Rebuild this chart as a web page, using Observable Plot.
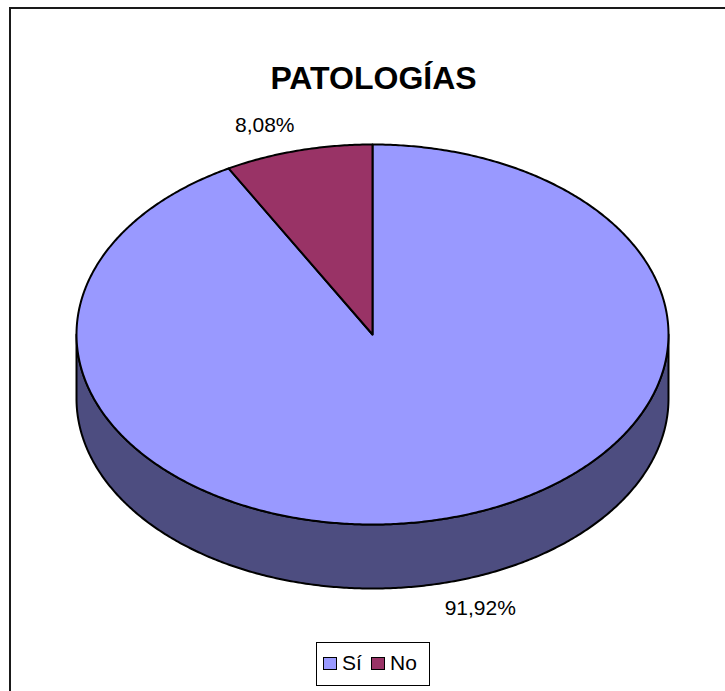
<!DOCTYPE html>
<html>
<head>
<meta charset="utf-8">
<script src="https://cdn.jsdelivr.net/npm/d3@7"></script>
<script src="https://cdn.jsdelivr.net/npm/@observablehq/plot@0.6"></script>
<style>
  html, body { margin: 0; padding: 0; background: #fff; }
  body { width: 725px; height: 691px; overflow: hidden; position: relative; font-family: "Liberation Sans", Arial, sans-serif; }
  #frame { position: absolute; left: 9px; top: 7px; width: 900px; height: 900px; border-top: 2px solid #1a1a1a; border-left: 2px solid #1a1a1a; box-sizing: border-box; }
  #chart { position: absolute; left: 0; top: 0; }
  #title { position: absolute; left: 0; width: 747px; top: 60px; text-align: center; font-weight: bold; font-size: 32px; color: #000; }
  #legend { position: absolute; left: 316px; top: 642px; width: 114px; height: 44px; border: 1px solid #000; box-sizing: border-box; background: #fff; }
  .sw { position: absolute; width: 14px; height: 13px; border: 1px solid #000; box-sizing: border-box; top: 14px; }
  .lb { position: absolute; top: 8px; font-size: 21px; line-height: 24px; color: #000; }
</style>
</head>
<body>
<div id="frame"></div>
<div id="chart"></div>
<div id="title"></div>
<div id="legend"></div>
<script>
// ---- data ----
const titleText = "PATOLOGÍAS";
const categories = ["Sí", "No"];
const values = [91.92, 8.08];
const labels = ["91,92%", "8,08%"];
const topColors = ["#9999ff", "#993366"];
const sideColors = ["#4d4d80", "#4d1a33"];

// ---- geometry (unit ellipse, y up) ----
const depth = 0.337;
const step = Math.PI / 360;
const arcs = d3.pie().sort(null).startAngle(0).endAngle(2 * Math.PI)(values);

function arcPoints(a0, a1, dy) {
  const pts = [];
  const n = Math.max(2, Math.ceil((a1 - a0) / step));
  for (let i = 0; i <= n; i++) {
    const a = a0 + (a1 - a0) * i / n;
    pts.push([Math.sin(a), Math.cos(a) + dy]);
  }
  return pts;
}

const sidePts = [];
const topPts = [];
const labelRows = [];
arcs.forEach((arc, i) => {
  const cat = categories[i];
  // front wall (visible between 90° and 270° clockwise from top)
  const s0 = Math.max(arc.startAngle, Math.PI / 2);
  const s1 = Math.min(arc.endAngle, 3 * Math.PI / 2);
  if (s1 > s0) {
    const upper = arcPoints(s0, s1, 0);
    const lower = arcPoints(s0, s1, -depth).reverse();
    const poly = upper.concat(lower);
    poly.push(poly[0]);
    poly.forEach(([x, y]) => sidePts.push({key: cat + "-side", x, y, fill: sideColors[i]}));
  }
  // top face
  const poly = [[0, 0]].concat(arcPoints(arc.startAngle, arc.endAngle, 0));
  poly.push([0, 0]);
  poly.forEach(([x, y]) => topPts.push({key: cat, x, y, fill: topColors[i]}));
  // label
  const mid = (arc.startAngle + arc.endAngle) / 2;
  const c = Math.cos(mid);
  labelRows.push({
    text: labels[i],
    x: 1.45 * Math.sin(mid),
    y: 1.14 * c + (c < 0 ? -depth : 0)
  });
});

const plot = Plot.plot({
  width: 725,
  height: 691,
  margin: 0,
  x: {domain: [-1, 1], range: [76, 668], axis: null},
  y: {domain: [-1, 1], range: [524, 144], axis: null},
  color: {type: "identity"},
  style: {background: "transparent", fontFamily: "'Liberation Sans', Arial, sans-serif"},
  marks: [
    Plot.line(sidePts, {x: "x", y: "y", z: "key", fill: "fill", stroke: "#000", strokeWidth: 2, curve: "linear", strokeLinejoin: "round"}),
    Plot.line(topPts, {x: "x", y: "y", z: "key", fill: "fill", stroke: "#000", strokeWidth: 2, curve: "linear", strokeLinejoin: "round"}),
    Plot.text(labelRows, {x: "x", y: "y", text: "text", fontSize: 21, fill: "#000"})
  ]
});
document.getElementById("chart").appendChild(plot);

document.getElementById("title").textContent = titleText;

const legend = document.getElementById("legend");
const legendPos = [[6, 25], [54, 73]];
categories.forEach((cat, i) => {
  const sw = document.createElement("div");
  sw.className = "sw";
  sw.style.left = legendPos[i][0] + "px";
  sw.style.background = topColors[i];
  legend.appendChild(sw);
  const lb = document.createElement("div");
  lb.className = "lb";
  lb.style.left = legendPos[i][1] + "px";
  lb.textContent = cat;
  legend.appendChild(lb);
});
</script>
</body>
</html>
